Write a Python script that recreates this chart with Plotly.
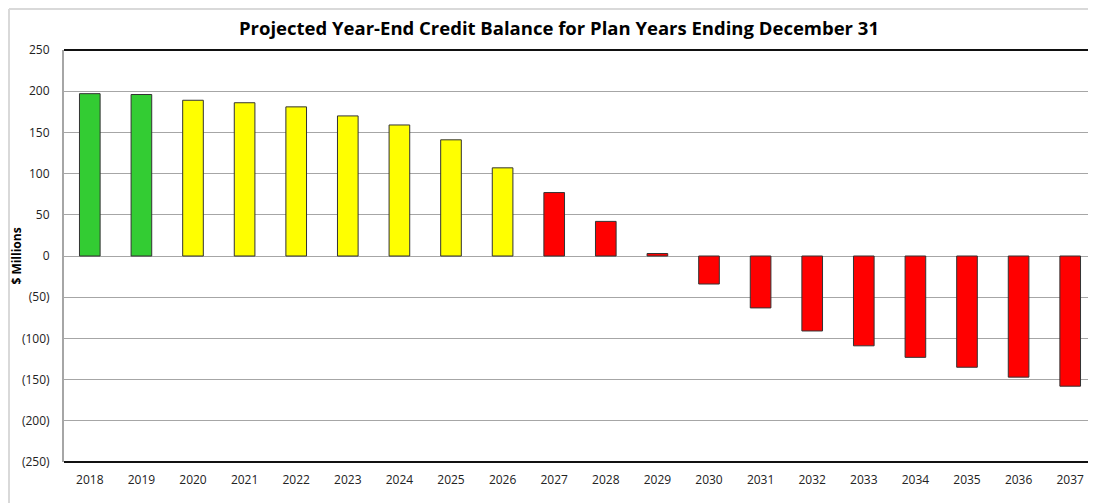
import plotly.graph_objects as go

years = [str(y) for y in range(2018, 2038)]
balance = [197, 196, 189, 186, 181, 170, 159, 141, 107, 77, 42, 3,
           -34, -63, -91, -109, -123, -135, -147, -158]
status = ["green"] * 2 + ["yellow"] * 7 + ["red"] * 11
tick_vals = [250, 200, 150, 100, 50, 0, -50, -100, -150, -200, -250]
tick_text = ["250", "200", "150", "100", "50", "0", "(50)", "(100)", "(150)", "(200)", "(250)"]

color_map = {"green": "#33CC33", "yellow": "#FFFF00", "red": "#FF0000"}
colors = [color_map[s] for s in status]

fig = go.Figure(go.Bar(
    x=years, y=balance, marker=dict(color=colors, line=dict(color="#333333", width=1)),
    width=0.4,
))

# page body has an 8px margin; compensate
OFF = 8
W, H = 1096 - OFF, 504 - OFF
L, R, T, B = 64 - OFF, 0, 50 - OFF, 42
pw, ph = W - L - R, H - T - B

shapes = [
    dict(type="line", xref="paper", yref="paper", x0=0, x1=1, y0=1, y1=1,
         line=dict(color="#111111", width=2)),
    dict(type="line", xref="paper", yref="paper", x0=0, x1=1, y0=0, y1=0,
         line=dict(color="#111111", width=2)),
    # outer chart border (top and left)
    dict(type="line", xref="paper", yref="paper", x0=(1 - L) / pw, x1=1.01,
         y0=1 + (T - 1) / ph, y1=1 + (T - 1) / ph, line=dict(color="#D9D9D9", width=2)),
    dict(type="line", xref="paper", yref="paper", x0=(1 - L) / pw, x1=(1 - L) / pw,
         y0=1 + (T - 1) / ph, y1=-(B - 1) / ph, line=dict(color="#D9D9D9", width=2)),
]

fig.update_layout(
    width=W, height=H,
    margin=dict(l=L, r=R, t=T, b=B),
    paper_bgcolor="white", plot_bgcolor="white",
    showlegend=False,
    title=dict(text="<b>Projected Year-End Credit Balance for Plan Years Ending December 31</b>",
               x=(559 - OFF) / W, xanchor="center", y=1 - (29 - OFF) / H, yanchor="middle",
               font=dict(family="Open Sans, Liberation Sans, sans-serif", size=18.5, color="#000000")),
    font=dict(family="Open Sans, Liberation Sans, sans-serif", size=12, color="#222222"),
    xaxis=dict(showgrid=False, showline=False, ticks="", tickfont=dict(size=12),
               range=[-0.5, 19.5], ticklabelstandoff=9),
    yaxis=dict(range=[-250, 250], tickvals=tick_vals, ticktext=tick_text,
               showgrid=True, gridcolor="#A6A6A6", gridwidth=1,
               zeroline=True, zerolinecolor="#A6A6A6", zerolinewidth=1,
               showline=True, linecolor="#A6A6A6", linewidth=2, ticks="",
               tickfont=dict(size=12), ticklabelstandoff=10,
               title=dict(text="<b>$ Millions</b>", standoff=2, font=dict(size=12, color="#000000"))),
    shapes=shapes,
)

fig.write_html("out.html")
